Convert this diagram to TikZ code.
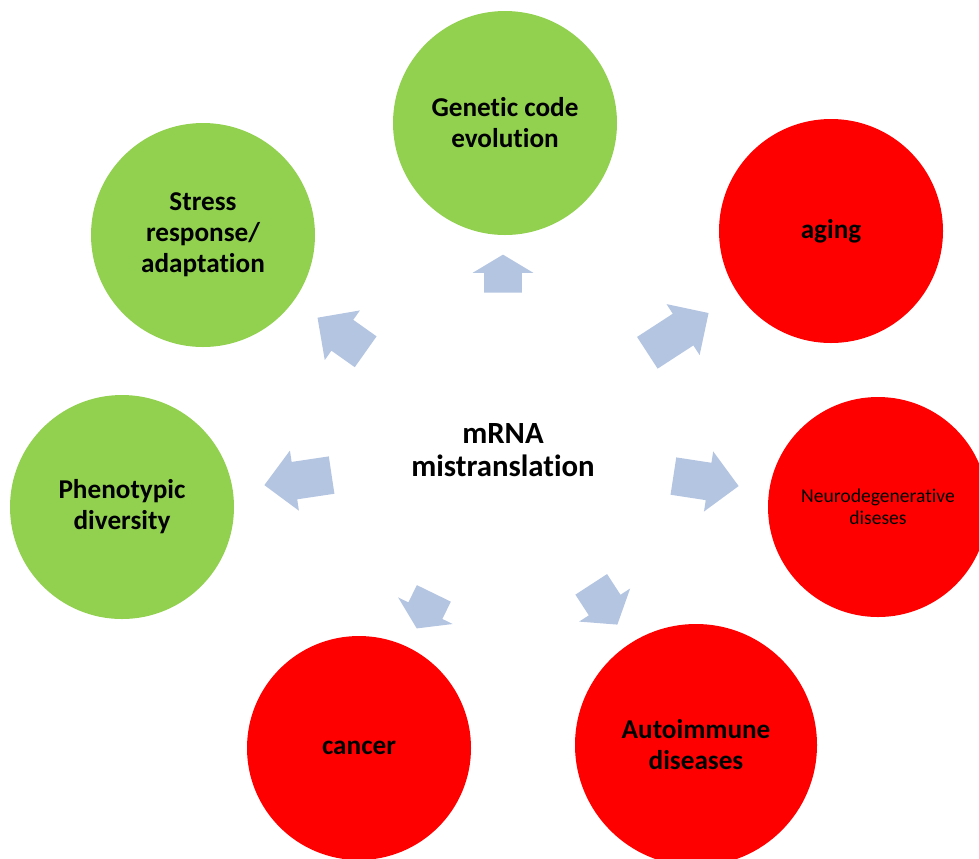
\documentclass[tikz,border=0pt]{standalone}
\usepackage{fontspec}
\setmainfont[Ligatures=NoCommon]{Carlito}
\usetikzlibrary{shapes.arrows, positioning}
\definecolor{leafgreen}{RGB}{146,208,80}
\definecolor{alarmred}{RGB}{255,0,0}
\definecolor{flowblue}{RGB}{180,197,226}

\begin{document}
\begin{tikzpicture}[x=0.5pt, y=-0.5pt,
  bubble/.style={circle, minimum size=112pt, inner sep=0pt, align=center, font=\fontsize{13.6}{15.5}\selectfont\bfseries},
  good/.style={bubble, fill=leafgreen},
  bad/.style={bubble, fill=alarmred},
  push/.style={single arrow, anchor=tail, fill=flowblue, draw=none, inner xsep=0pt, inner ysep=9.25pt, single arrow head extend=5.75pt}
]
  \useasboundingbox (0,0) rectangle (979,858);
  \clip (0,0) rectangle (979,858);

  % centre text
  \node[align=center, font=\fontsize{15.4}{16.5}\selectfont\bfseries] (core) at (503,450) {mRNA\\mistranslation};

  % green (left / top)
  \node[good] (genetic) at (505,123) {Genetic code\\evolution};
  \node[good] (stress) at (203,235) {Stress\\response/\\adaptation};
  \node[good] (pheno) at (122,507) {Phenotypic\\diversity};

  % red (right / bottom)
  \node[bad] (aging) at (831,231) {aging};
  \node[bad, minimum size=110pt, font=\fontsize{9.8}{11}\selectfont] (neuro) at (878,507) {Neurodegenerative\\diseses};
  \node[bad, minimum size=121pt] (auto) at (696,745) {Autoimmune\\diseases};
  \node[bad] (cancer) at (359,748) {cancer};

  % block arrows (placed by their tails)
  \node[push, minimum height=19pt, single arrow tip angle=118, rotate=90] (upArr) at (503,293) {};
  \node[push, minimum height=36.5pt, rotate=33] (neArr) at (647,353) {};
  \node[push, minimum height=33pt, rotate=-8.7] (eArr) at (673,476) {};
  \node[push, minimum height=24pt, single arrow tip angle=105, rotate=-57] (seArr) at (591,584) {};
  \node[push, minimum height=19.5pt, single arrow tip angle=114, rotate=244] (swArr) at (434,593) {};
  \node[push, minimum height=34pt, rotate=188.5] (wArr) at (332,475) {};
  \node[push, minimum height=29.5pt, rotate=144.7] (nwArr) at (366,352) {};
\end{tikzpicture}
\end{document}
